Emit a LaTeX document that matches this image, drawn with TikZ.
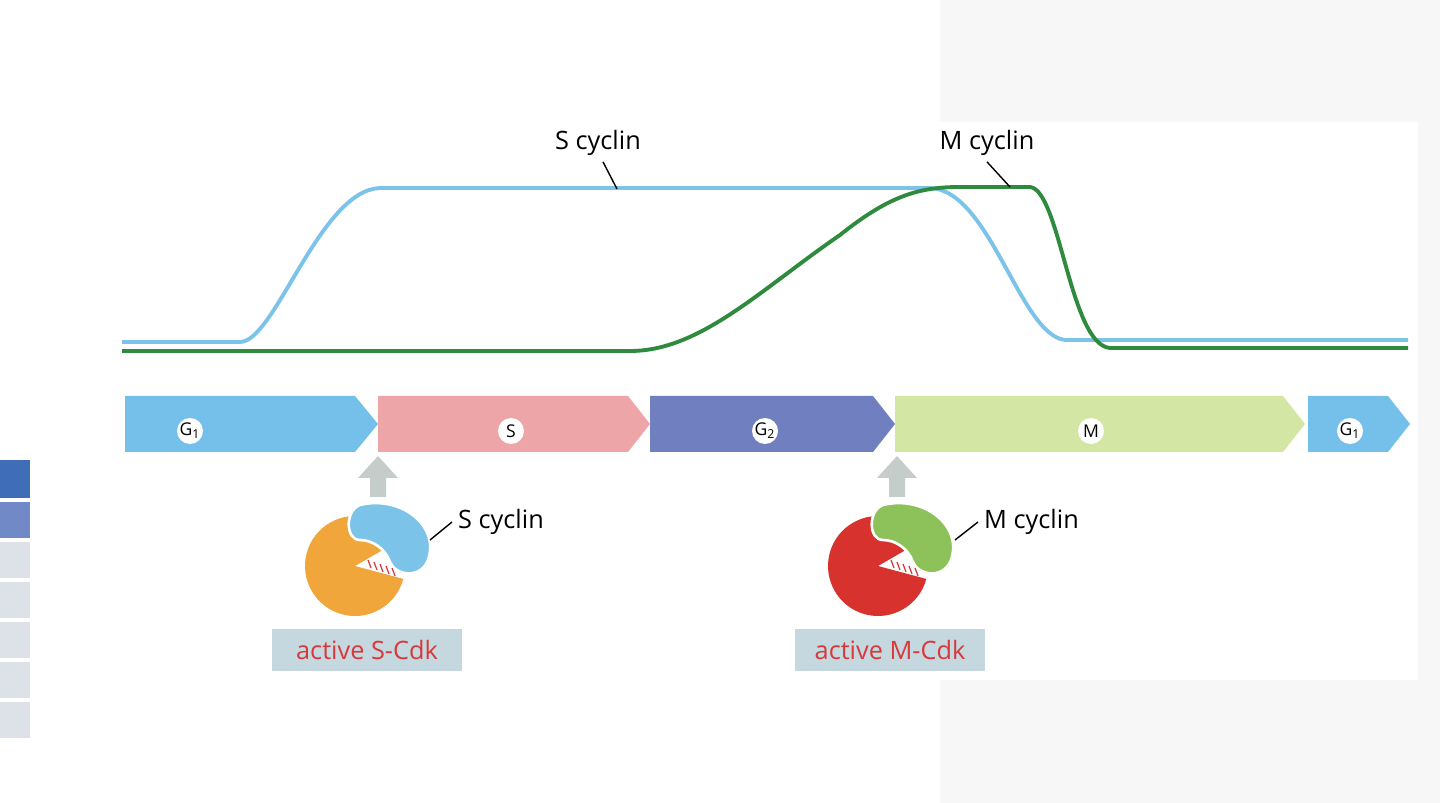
\documentclass[tikz,border=0pt]{standalone}
\usepackage{fontspec}
\setmainfont{Open Sans}
\begin{document}
\begin{tikzpicture}[x=0.02cm,y=-0.02cm,
 lab/.style={font=\Large},
 box/.style={fill=boxblue,text=cdkred,font=\Large,minimum width=3.8cm,minimum height=0.84cm,inner sep=0pt}]
\definecolor{sblue}{HTML}{7CC3EA}
\definecolor{mgreen}{HTML}{2E8B3E}
\definecolor{g1c}{HTML}{74C0EA}
\definecolor{sc}{HTML}{EEA5A8}
\definecolor{g2c}{HTML}{6F7FC0}
\definecolor{mc}{HTML}{D4E6A4}
\definecolor{upgray}{HTML}{C5CDCB}
\definecolor{boxblue}{HTML}{C5D8E0}
\definecolor{cdkred}{HTML}{D8383A}
\definecolor{st1}{HTML}{3F6DB8}
\definecolor{st2}{HTML}{7189C6}
\definecolor{st3}{HTML}{DDE2E8}
\definecolor{orng}{HTML}{F0A63A}
\definecolor{mred}{HTML}{D7322E}
\definecolor{lgreen}{HTML}{8DC159}
\useasboundingbox (0,0) rectangle (1440,803);
\fill[white] (0,0) rectangle (1440,803);
\fill[gray!6] (940,0) rectangle (1440,803);
\fill[white] (115,122) rectangle (1418,680);
% left strips
\fill[st1] (0,460) rectangle (30,498);
\fill[st2] (0,502) rectangle (30,538);
\foreach \y in {542,582,622,662,702}{\fill[st3] (0,\y) rectangle (30,\y+36);}
% curves
\draw[sblue,line width=2.2pt] (122,342) -- (240,342) .. controls (275,342) and (320,190) .. (380,188) -- (930,188) .. controls (990,190) and (1020,335) .. (1065,340) -- (1408,340);
\draw[mgreen,line width=2.2pt] (122,351) -- (630,351) .. controls (700,351) and (760,290) .. (840,235) .. controls (890,195) and (920,187) .. (960,187) -- (1030,187) .. controls (1060,190) and (1070,345) .. (1110,348) -- (1408,348);
\node[lab] (sl) at (598,143) {S cyclin};
\node[lab] (ml) at (987,143) {M cyclin};
\coordinate (sp) at (617,189);
\coordinate (mp) at (1010,187);
\draw[line width=0.8pt] (sl.south) ++(5,0) -- (sp);
\draw[line width=0.8pt] (ml.south) ++(0,0) -- (mp);
% phases
\fill[g1c] (125,396) -- (355,396) -- (378,424) -- (355,452) -- (125,452) -- cycle;
\fill[sc] (378,396) -- (628,396) -- (650,424) -- (628,452) -- (378,452) -- cycle;
\fill[g2c] (650,396) -- (873,396) -- (895,424) -- (873,452) -- (650,452) -- cycle;
\fill[mc] (895,396) -- (1283,396) -- (1305,424) -- (1283,452) -- (895,452) -- cycle;
\fill[g1c] (1308,396) -- (1388,396) -- (1410,424) -- (1388,452) -- (1308,452) -- cycle;
\foreach \n/\x/\t in {a/190/{G\textsubscript{1}},b/511/S,c/765/{G\textsubscript{2}},d/1091/M,e/1350/{G\textsubscript{1}}}{
 \node[circle,fill=white,inner sep=0pt,minimum size=0.52cm,font=\normalsize] (p\n) at (\x,431) {\t};}
% up arrows
\foreach \x in {378,897}{\fill[upgray] (\x-8,497) -- (\x-8,478) -- (\x-20,478) -- (\x,456) -- (\x+20,478) -- (\x+8,478) -- (\x+8,497) -- cycle;}
% S-Cdk
\fill[orng] (355,566) -- ++(15:50) arc (15:330:50) -- cycle;
\fill[sblue,draw=white,line width=1.5pt] (360,505) .. controls (400,495) and (440,525) .. (428,560) .. controls (420,580) and (395,575) .. (390,562) .. controls (385,548) and (372,540) .. (360,540) .. controls (345,540) and (345,510) .. (360,505) -- cycle;
\foreach \a in {0,1,2,3,4}{\draw[cdkred,line width=0.7pt] (368+\a*6,560+\a*2) -- ++(3,8);}
\node[lab,anchor=west] (scl) at (452,522) {S cyclin};
\draw[line width=0.8pt] (430,540) -- (scl.west);
\node[box] (sb) at (367,650) {active S-Cdk};
% M-Cdk
\fill[mred] (878,566) -- ++(15:50) arc (15:330:50) -- cycle;
\fill[lgreen,draw=white,line width=1.5pt] (883,505) .. controls (923,495) and (963,525) .. (951,560) .. controls (943,580) and (918,575) .. (913,562) .. controls (908,548) and (895,540) .. (883,540) .. controls (868,540) and (868,510) .. (883,505) -- cycle;
\foreach \a in {0,1,2,3,4}{\draw[cdkred,line width=0.7pt] (891+\a*6,560+\a*2) -- ++(3,8);}
\node[lab,anchor=west] (mcl) at (978,522) {M cyclin};
\draw[line width=0.8pt] (955,540) -- (mcl.west);
\node[box] (mb) at (890,650) {active M-Cdk};
\end{tikzpicture}
\end{document}
